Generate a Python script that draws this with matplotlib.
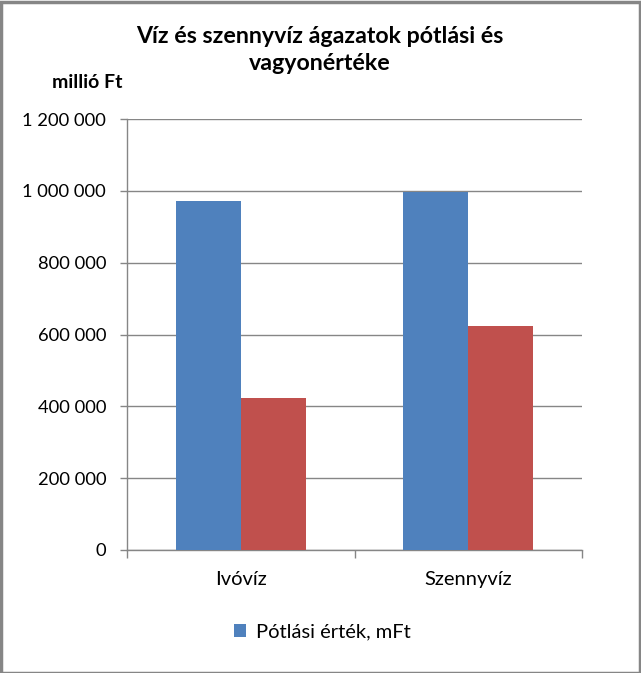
import matplotlib
matplotlib.use("Agg")
import matplotlib.pyplot as plt
from matplotlib.patches import Rectangle
import numpy as np

plt.rcParams['font.family'] = ['Lato', 'DejaVu Sans']

categories = ["Ivóvíz", "Szennyvíz"]
potlasi = [971000, 998000]
vagyon = [423000, 624000]
yticks = [0, 200000, 400000, 600000, 800000, 1000000, 1200000]
ytick_labels = ["0", "200 000", "400 000", "600 000", "800 000", "1 000 000", "1 200 000"]
title = "Víz és szennyvíz ágazatok pótlási és\nvagyonértéke"
ylabel = "millió Ft"
legend_label = "Pótlási érték, mFt"

W, H = 641, 673
fig = plt.figure(figsize=(W / 100, H / 100), dpi=100)
fig.patch.set_facecolor("white")

ax = fig.add_axes([127 / W, 1 - 550 / H, (582 - 127) / W, (550 - 119) / H])

x = np.arange(len(categories))
bw = 0.285
grid_c = "#868686"
b1 = ax.bar(x - bw / 2, potlasi, bw, color="#4F81BD", zorder=3, label=legend_label)
ax.bar(x + bw / 2, vagyon, bw, color="#C0504D", zorder=3)

ax.set_xlim(-0.5, 1.5)
ax.set_ylim(0, 1200000)
ax.set_yticks(yticks)
ax.set_yticklabels(ytick_labels)
ax.set_xticks([-0.5, 0.5, 1.5])
ax.set_xticklabels([])
ax.set_xticks(x, minor=True)
ax.set_xticklabels(categories, minor=True)
ax.tick_params(axis="x", which="minor", length=0, pad=15, labelsize=14.5, colors="black")
ax.tick_params(axis="x", which="major", length=6, width=1, color=grid_c, direction="out")
ax.tick_params(axis="y", length=5, width=1, color=grid_c, direction="out", pad=10, labelsize=13.2)

ax.grid(axis="y", color=grid_c, linewidth=1, zorder=0)
for s in ["top", "right"]:
    ax.spines[s].set_visible(False)
for s in ["left", "bottom"]:
    ax.spines[s].set_color(grid_c)
    ax.spines[s].set_linewidth(1)

fig.text(320 / W, 1 - 50 / H, title, ha="center", va="center", fontsize=16.7,
         fontweight="bold", linespacing=1.3)
fig.text(87 / W, 1 - 83 / H, ylabel, ha="center", va="center", fontsize=14, fontweight="bold")

fig.legend(handles=[b1], labels=[legend_label], loc="center", bbox_to_anchor=(322 / W, 1 - 632 / H),
           frameon=False, fontsize=14.5, handlelength=0.6, handleheight=0.6, handletextpad=0.5)

fig.add_artist(Rectangle((0.5 / W, 0.5 / H), 1 - 2 / W, 1 - 2 / H, transform=fig.transFigure,
                         fill=False, edgecolor="#868686", linewidth=2.5))

fig.savefig("out.png", dpi=100)
